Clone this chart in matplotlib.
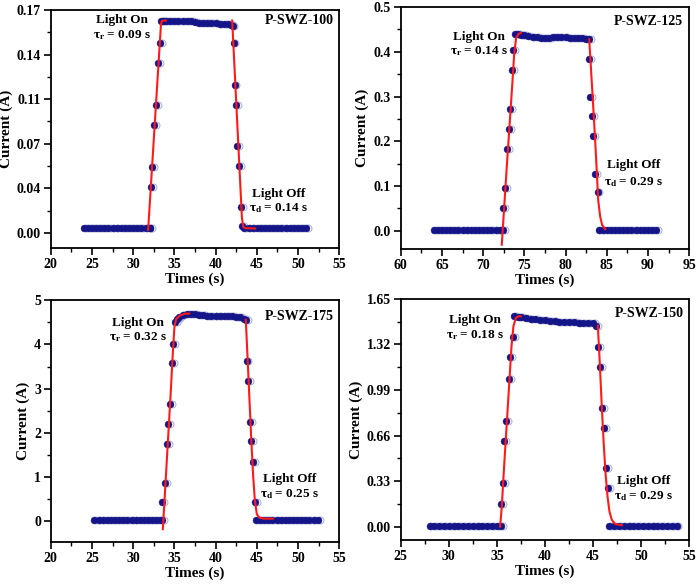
import matplotlib
matplotlib.use("Agg")
import matplotlib.pyplot as plt
import matplotlib.transforms as mtransforms
from matplotlib.ticker import MultipleLocator, FixedLocator

plt.rcParams['font.family'] = ['Liberation Serif', 'DejaVu Serif']
plt.rcParams['font.weight'] = 'bold'
plt.rcParams['mathtext.fontset'] = 'custom'
plt.rcParams['mathtext.rm'] = 'Liberation Serif:bold'
plt.rcParams['mathtext.it'] = 'Liberation Serif:bold'
plt.rcParams['mathtext.bf'] = 'Liberation Serif:bold'

# ---------------- P-SWZ-100 ----------------
t_100 = [24.0, 24.5, 25.0, 25.5, 26.0, 26.5, 27.0, 27.5, 28.0, 28.5, 29.0, 29.5, 30.0, 30.5, 31.0, 31.5, 32.0, 32.1,
         32.15, 32.3, 32.55, 32.75, 33.0, 33.23, 33.44,
         33.6, 34.0, 34.5, 35.0, 35.5, 36.0, 36.5, 37.0, 37.5, 38.0, 38.5, 39.0, 39.5, 40.0, 40.5, 41.0, 41.5, 41.9,
         42.06, 42.2, 42.3, 42.46, 42.62, 42.82, 43.07, 43.27,
         43.5, 44.0, 44.5, 45.0, 45.5, 46.0, 46.5, 47.0, 47.5, 48.0, 48.5, 49.0, 49.5, 50.0, 50.5, 51.0]
i_100 = [0.004, 0.004, 0.004, 0.004, 0.004, 0.004, 0.004, 0.004, 0.004, 0.004, 0.004, 0.004, 0.004, 0.004, 0.004, 0.004, 0.004, 0.004,
         0.0358, 0.052, 0.0844, 0.1008, 0.133, 0.149, 0.166,
         0.1664, 0.1665, 0.1665, 0.1665, 0.1666, 0.1667, 0.1666, 0.1663, 0.1655, 0.1648, 0.1645, 0.1647, 0.1648, 0.1647, 0.1643, 0.164, 0.1637, 0.1632,
         0.1627, 0.149, 0.1165, 0.1006, 0.0684, 0.0528, 0.0206, 0.0057,
         0.004, 0.004, 0.004, 0.004, 0.004, 0.004, 0.004, 0.004, 0.004, 0.004, 0.004, 0.004, 0.004, 0.004, 0.004, 0.004]
fit_rise_t_100 = [31.82, 33.38, 33.5, 33.96]
fit_rise_i_100 = [0.0026, 0.164, 0.1665, 0.1667]
fit_fall_t_100 = [42.02, 43.2, 43.35, 43.6, 44.8]
fit_fall_i_100 = [0.1667, 0.012, 0.005, 0.0038, 0.0035]

# ---------------- P-SWZ-125 ----------------
t_125 = [64.0, 64.5, 65.0, 65.5, 66.0, 66.5, 67.0, 67.5, 68.0, 68.5, 69.0, 69.5, 70.0, 70.5, 71.0, 71.5, 72.0, 72.38,
         72.46, 72.63, 72.87, 73.11, 73.27, 73.48, 73.68, 73.84,
         74.2, 74.6, 75.0, 75.5, 76.0, 76.5, 77.0, 77.5, 78.0, 78.5, 79.0, 79.5, 80.0, 80.5, 81.0, 81.5, 82.0, 82.5, 82.87,
         82.9, 82.99, 83.27, 83.39, 83.63, 83.88,
         84.0, 84.5, 85.0, 85.5, 86.0, 86.5, 87.0, 87.5, 88.0, 88.5, 89.0, 89.5, 90.0, 90.5, 91.0]
i_125 = [0.003, 0.003, 0.003, 0.003, 0.003, 0.003, 0.003, 0.003, 0.003, 0.003, 0.003, 0.003, 0.003, 0.003, 0.003, 0.003, 0.003, 0.003,
         0.0514, 0.0954, 0.183, 0.228, 0.272, 0.360, 0.403, 0.440,
         0.439, 0.438, 0.437, 0.435, 0.433, 0.432, 0.431, 0.431, 0.431, 0.432, 0.432, 0.432, 0.432, 0.431, 0.431, 0.431, 0.430, 0.429, 0.428,
         0.3845, 0.298, 0.2556, 0.2124, 0.128, 0.0857,
         0.003, 0.003, 0.003, 0.003, 0.003, 0.003, 0.003, 0.003, 0.003, 0.003, 0.003, 0.003, 0.003, 0.003, 0.003]
fit_rise_t_125 = [72.26, 72.87, 73.52, 73.76, 74.0, 74.29, 74.57]
fit_rise_i_125 = [-0.031, 0.144, 0.323, 0.393, 0.431, 0.440, 0.442]
fit_fall_t_125 = [82.87, 83.07, 83.31, 83.59, 83.8, 83.96, 84.2, 84.44, 84.81]
fit_fall_i_125 = [0.428, 0.367, 0.293, 0.203, 0.129, 0.069, 0.032, 0.013, 0.004]

# ---------------- P-SWZ-175 ----------------
t_175 = [25.3, 25.8, 26.3, 26.8, 27.3, 27.8, 28.3, 28.8, 29.3, 29.8, 30.3, 30.8, 31.3, 31.8, 32.3, 32.8, 33.3, 33.5,
         33.56, 33.84, 34.08, 34.29, 34.49, 34.69, 34.89, 35.05,
         35.3, 35.6, 36.0, 36.5, 37.0, 37.5, 38.0, 38.5, 39.0, 39.5, 40.0, 40.5, 41.0, 41.5, 42.0, 42.5, 43.0, 43.5, 43.72,
         43.76, 43.96, 44.16, 44.32, 44.57, 44.77,
         44.9, 45.4, 45.9, 46.4, 46.9, 47.4, 47.9, 48.4, 48.9, 49.4, 49.9, 50.4, 50.9, 51.4, 51.9, 52.4]
i_175 = [0.015, 0.015, 0.015, 0.015, 0.015, 0.015, 0.015, 0.015, 0.015, 0.015, 0.015, 0.015, 0.015, 0.015, 0.015, 0.015, 0.015, 0.015,
         0.42, 0.86, 1.74, 2.19, 2.64, 3.57, 4.02, 4.52,
         4.57, 4.63, 4.67, 4.70, 4.70, 4.69, 4.67, 4.66, 4.65, 4.65, 4.65, 4.65, 4.65, 4.65, 4.64, 4.63, 4.62, 4.58, 4.55,
         3.63, 3.17, 2.25, 1.80, 1.34, 0.42,
         0.015, 0.015, 0.015, 0.015, 0.015, 0.015, 0.015, 0.015, 0.015, 0.015, 0.015, 0.015, 0.015, 0.015, 0.015, 0.015]
fit_rise_t_175 = [33.6, 33.88, 34.2, 34.53, 34.81, 35.01, 35.22, 35.7, 36.31, 36.8]
fit_rise_i_175 = [-0.19, 0.695, 1.75, 2.81, 3.79, 4.40, 4.58, 4.66, 4.70, 4.70]
fit_fall_t_175 = [43.67, 43.88, 44.12, 44.36, 44.57, 44.77, 45.01, 45.33, 45.82, 46.95]
fit_fall_i_175 = [4.56, 3.72, 2.73, 1.75, 1.0, 0.47, 0.15, 0.07, 0.05, 0.05]

# ---------------- P-SWZ-150 ----------------
t_150 = [28.0, 28.5, 29.0, 29.5, 30.0, 30.5, 31.0, 31.5, 32.0, 32.5, 33.0, 33.5, 34.0, 34.5, 35.0, 35.4,
         35.44, 35.61, 35.79, 36.0, 36.24, 36.38, 36.65, 36.83,
         37.2, 37.5, 38.0, 38.5, 39.0, 39.5, 40.0, 40.5, 41.0, 41.5, 42.0, 42.5, 43.0, 43.5, 44.0, 44.5, 45.0, 45.29,
         45.5, 45.74, 45.98, 46.16, 46.37, 46.57,
         46.71, 47.2, 47.7, 48.2, 48.7, 49.2, 49.7, 50.2, 50.7, 51.2, 51.7, 52.2, 52.7, 53.2, 53.7]
i_150 = [0.007, 0.007, 0.007, 0.007, 0.007, 0.007, 0.007, 0.007, 0.007, 0.007, 0.007, 0.007, 0.007, 0.007, 0.007, 0.005,
         0.162, 0.315, 0.619, 0.767, 1.072, 1.227, 1.374, 1.524,
         1.522, 1.517, 1.512, 1.507, 1.502, 1.498, 1.495, 1.492, 1.489, 1.486, 1.484, 1.482, 1.480, 1.478, 1.476, 1.475, 1.473, 1.452,
         1.30, 1.156, 0.861, 0.716, 0.421, 0.276,
         0.007, 0.007, 0.007, 0.007, 0.007, 0.007, 0.007, 0.007, 0.007, 0.007, 0.007, 0.007, 0.007, 0.007, 0.007]
fit_rise_t_150 = [35.34, 35.51, 35.75, 36.03, 36.31, 36.52, 36.72, 36.97, 37.24, 37.49]
fit_rise_i_150 = [0.0, 0.145, 0.435, 0.75, 1.065, 1.306, 1.452, 1.512, 1.524, 1.524]
fit_fall_t_150 = [45.5, 45.67, 45.88, 46.09, 46.3, 46.51, 46.71, 46.96, 47.3, 48.0]
fit_fall_i_150 = [1.456, 1.234, 0.919, 0.629, 0.387, 0.218, 0.109, 0.048, 0.019, 0.0097]

# ---------------- axis settings ----------------
names = ['P-SWZ-100', 'P-SWZ-125', 'P-SWZ-175', 'P-SWZ-150']
tau_r = ['0.09', '0.14', '0.32', '0.18']
tau_d = ['0.14', '0.29', '0.25', '0.29']
yticks_100 = [0.0, 0.035, 0.07, 0.105, 0.14, 0.175]
ylabels_100 = ['0.00', '0.04', '0.07', '0.11', '0.14', '0.17']
yticks_125 = [0.0, 0.1, 0.2, 0.3, 0.4, 0.5]
ylabels_125 = ['0.0', '0.1', '0.2', '0.3', '0.4', '0.5']
yticks_175 = [0, 1, 2, 3, 4, 5]
ylabels_175 = ['0', '1', '2', '3', '4', '5']
yticks_150 = [0.0, 0.33, 0.66, 0.99, 1.32, 1.65]
ylabels_150 = ['0.00', '0.33', '0.66', '0.99', '1.32', '1.65']

panels = [
    dict(t=t_100, i=i_100, fr=(fit_rise_t_100, fit_rise_i_100), ff=(fit_fall_t_100, fit_fall_i_100),
         xlim=(20, 55), ylim=(-0.0118, 0.175), yt=yticks_100, yl=ylabels_100,
         pos=[0.0725, 0.576, 0.412, 0.407], on=(28.6, 0.167, 0.155), off=(47.6, 0.0308, 0.0196), lab=(54.3, 0.167)),
    dict(t=t_125, i=i_125, fr=(fit_rise_t_125, fit_rise_i_125), ff=(fit_fall_t_125, fit_fall_i_125),
         xlim=(60, 95), ylim=(-0.041, 0.5), yt=yticks_125, yl=ylabels_125,
         pos=[0.5725, 0.574, 0.412, 0.414], on=(69.5, 0.434, 0.401), off=(88.25, 0.146, 0.110), lab=(94.3, 0.468)),
    dict(t=t_175, i=i_175, fr=(fit_rise_t_175, fit_rise_i_175), ff=(fit_fall_t_175, fit_fall_i_175),
         xlim=(20, 55), ylim=(-0.48, 5), yt=yticks_175, yl=ylabels_175,
         pos=[0.0725, 0.0735, 0.412, 0.413], on=(30.6, 4.49, 4.17), off=(49.0, 0.94, 0.60), lab=(54.3, 4.64)),
    dict(t=t_150, i=i_150, fr=(fit_rise_t_150, fit_rise_i_150), ff=(fit_fall_t_150, fit_fall_i_150),
         xlim=(25, 55), ylim=(-0.097, 1.65), yt=yticks_150, yl=ylabels_150,
         pos=[0.5725, 0.077, 0.412, 0.412], on=(32.7, 1.495, 1.386), off=(50.25, 0.327, 0.222), lab=(54.4, 1.548)),
]

navy = '#15158a'
red = '#ff1a1a'

fig = plt.figure(figsize=(7.0, 5.85), dpi=100)
for k, p in enumerate(panels):
    ax = fig.add_axes(p['pos'])
    shift = mtransforms.offset_copy(ax.transData, fig=fig, x=1.3, y=0, units='points')
    # light open rings (slightly offset) under the navy dots
    ax.plot(p['t'], p['i'], 'o', ms=5.0, mfc='white', mec='#a8aecb', mew=0.7, transform=shift, zorder=1)
    ax.plot(p['t'], p['i'], 'o', ms=5.0, mfc=navy, mec=navy, mew=0.3, zorder=2)
    ax.plot(p['fr'][0], p['fr'][1], '-', color=red, lw=1.5, zorder=3)
    ax.plot(p['ff'][0], p['ff'][1], '-', color=red, lw=1.5, zorder=3)
    ax.set_xlim(*p['xlim'])
    ax.set_ylim(*p['ylim'])
    ax.xaxis.set_major_locator(MultipleLocator(5))
    ax.xaxis.set_minor_locator(MultipleLocator(2.5))
    yt = p['yt']
    ax.set_yticks(yt)
    ax.set_yticklabels(p['yl'])
    step = yt[1] - yt[0]
    ax.yaxis.set_minor_locator(FixedLocator([v + step / 2 for v in yt[:-1]]))
    for s in ax.spines.values():
        s.set_linewidth(1.3)
    ax.tick_params(which='major', direction='out', length=5, width=1.2, labelsize=10, pad=2)
    ax.tick_params(which='minor', direction='out', length=3, width=1.0)
    for lbl in ax.get_xticklabels() + ax.get_yticklabels():
        lbl.set_fontweight('bold')
    ax.set_xlabel('Times (s)', fontsize=11, fontweight='bold', labelpad=1)
    ax.set_ylabel('Current (A)', fontsize=11, fontweight='bold', labelpad=3)

    on = p['on']
    ax.text(on[0], on[1], 'Light On', ha='center', va='center', fontsize=9.5, fontweight='bold')
    ax.text(on[0], on[2], r'$\tau_{r}$ = ' + tau_r[k] + ' s', ha='center', va='center', fontsize=9.5, fontweight='bold')
    off = p['off']
    ax.text(off[0], off[1], 'Light Off', ha='center', va='center', fontsize=9.5, fontweight='bold')
    ax.text(off[0], off[2], r'$\tau_{d}$ = ' + tau_d[k] + ' s', ha='center', va='center', fontsize=9.5, fontweight='bold')
    lab = p['lab']
    ax.text(lab[0], lab[1], names[k], ha='right', va='center', fontsize=10, fontweight='bold')

fig.savefig('out.png', dpi=100)
